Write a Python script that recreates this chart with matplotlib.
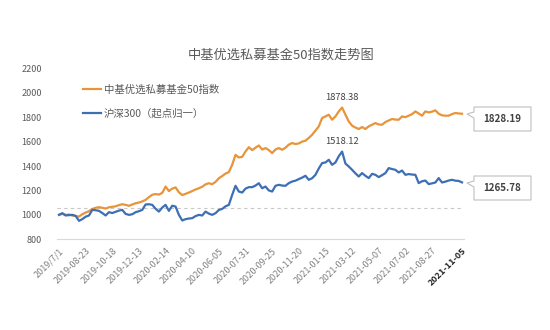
import matplotlib
matplotlib.use("Agg")
import matplotlib.pyplot as plt
from matplotlib.patches import Polygon
import numpy as np

plt.rcParams['font.family'] = ['Noto Sans CJK SC', 'DejaVu Sans']

# ---- data (weekly) ----
title = '中基优选私募基金50指数走势图'
label_fund = '中基优选私募基金50指数'
label_hs300 = '沪深300（起点归一）'

fund_index = [
    1000, 1008, 1000, 1003, 995, 990, 986, 1005, 1019, 1030,
    1048, 1058, 1063, 1058, 1052, 1062, 1066, 1070, 1080, 1087,
    1082, 1074, 1085, 1095, 1101, 1110, 1123, 1145, 1165, 1170,
    1166, 1180, 1232, 1195, 1215, 1225, 1185, 1162, 1172, 1183,
    1195, 1208, 1218, 1230, 1250, 1259, 1251, 1270, 1300, 1318,
    1338, 1350, 1410, 1491, 1470, 1475, 1519, 1554, 1530, 1550,
    1568, 1535, 1547, 1530, 1506, 1535, 1547, 1533, 1550, 1575,
    1588, 1580, 1585, 1600, 1607, 1630, 1656, 1690, 1724, 1793,
    1806, 1820, 1779, 1806, 1847, 1878.38, 1820, 1765, 1730, 1715,
    1703, 1719, 1703, 1725, 1738, 1752, 1740, 1738, 1760, 1773,
    1785, 1780, 1779, 1806, 1800, 1812, 1825, 1847, 1830, 1812,
    1847, 1839, 1845, 1856, 1828, 1815, 1812, 1812, 1825, 1834,
    1830, 1828.19,
]

hs300 = [
    1000, 1014, 995, 998, 1000, 992, 951, 965, 985, 995,
    1041, 1038, 1033, 1015, 995, 1022, 1015, 1025, 1035, 1041,
    1008, 1000, 1005, 1022, 1030, 1041, 1085, 1087, 1082, 1050,
    1027, 1060, 1082, 1033, 1075, 1068, 1000, 954, 965, 970,
    973, 990, 1000, 995, 1027, 1010, 1000, 1014, 1040, 1049,
    1070, 1082, 1164, 1238, 1191, 1183, 1215, 1227, 1227, 1240,
    1259, 1218, 1232, 1200, 1191, 1238, 1246, 1240, 1238, 1260,
    1273, 1280, 1293, 1305, 1320, 1287, 1300, 1328, 1380, 1424,
    1429, 1451, 1410, 1429, 1480, 1518.12, 1420, 1396, 1369, 1340,
    1314, 1342, 1320, 1301, 1336, 1328, 1309, 1325, 1342, 1383,
    1375, 1369, 1347, 1363, 1328, 1334, 1330, 1328, 1260, 1275,
    1281, 1252, 1258, 1265, 1301, 1265, 1272, 1281, 1287, 1280,
    1278, 1265.78,
]

tick_labels = ['2019/7/1', '2019-08-23', '2019-10-18', '2019-12-13', '2020-02-14',
               '2020-04-10', '2020-06-05', '2020-07-31', '2020-09-25', '2020-11-20',
               '2021-01-15', '2021-03-12', '2021-05-07', '2021-07-02', '2021-08-27',
               '2021-11-05']
tick_pos = [0, 8, 16, 24, 32, 40, 48, 56, 64, 72, 80, 88, 96, 104, 112, 121]
ref_level = 1060

orange = '#E8943A'
blue = '#3D6FB5'
grey_txt = '#595959'

x = np.arange(len(fund_index))
W, H = 550, 330
fig = plt.figure(figsize=(5.5, 3.3), dpi=100)
ax = fig.add_axes([57 / W, 1 - 239.3 / H, 407 / W, 171 / H])

ax.plot(x, fund_index, color=orange, lw=1.6, label=label_fund, solid_joinstyle='round')
ax.plot(x, hs300, color=blue, lw=1.6, label=label_hs300, solid_joinstyle='round')
ax.axhline(ref_level, color='#c8c8c8', lw=0.8, ls=(0, (3, 3)), zorder=0)

ax.set_xlim(-0.6, 121.6)
ax.set_ylim(800, 2200)
ax.set_yticks(np.arange(800, 2201, 200))
ax.tick_params(axis='y', length=0, pad=11, labelsize=6.5, labelcolor=grey_txt)
ax.set_xticks(tick_pos)
ax.set_xticklabels(tick_labels, rotation=45, ha='right', rotation_mode='anchor')
ax.tick_params(axis='x', length=0, pad=5, labelsize=6.5, labelcolor='#808080')
last = ax.get_xticklabels()[-1]
last.set_color('#262626')
last.set_fontweight('bold')

for s in ['top', 'right', 'left']:
    ax.spines[s].set_visible(False)
ax.spines['bottom'].set_color('#d9d9d9')
ax.spines['bottom'].set_linewidth(0.8)

fig.text(281 / W, 1 - 55 / H, title, ha='center', va='center', fontsize=9.5, color=grey_txt)

leg = ax.legend(loc='upper left', bbox_to_anchor=(22 / 407, 1 - 12 / 171), frameon=False,
                fontsize=7.5, handlelength=1.7, handletextpad=0.3, labelspacing=1.35,
                borderaxespad=0)
for t in leg.get_texts():
    t.set_color(grey_txt)

# peak labels
i_f = int(np.argmax(fund_index))
i_h = int(np.argmax(hs300))
ax.annotate(f'{fund_index[i_f]:.2f}', xy=(x[i_f], fund_index[i_f]), xytext=(0, 4),
            textcoords='offset points', ha='center', va='bottom', fontsize=6.7, color='#404040')
ax.annotate(f'{hs300[i_h]:.2f}', xy=(x[i_h], hs300[i_h]), xytext=(0, 4),
            textcoords='offset points', ha='center', va='bottom', fontsize=6.7, color='#404040')


# end-value callouts (pixel geometry, figure coords)
def callout(top, value):
    l, r, b = 474, 531, top + 24
    pts = [(l, top), (r, top), (r, b), (l, b), (l, top + 11), (467, top + 7), (l, top + 5)]
    pts = [(px / W, 1 - py / H) for px, py in pts]
    fig.patches.append(Polygon(pts, closed=True, transform=fig.transFigure, facecolor='white',
                               edgecolor='#bfbfbf', lw=0.8))
    fig.text((l + r) / 2 / W, 1 - (top + 12) / H, f'{value:.2f}', ha='center', va='center',
             fontsize=7, fontweight='bold', color='#404040')


callout(107, fund_index[-1])
callout(176, hs300[-1])

fig.savefig('out.png', dpi=100, facecolor='white')
